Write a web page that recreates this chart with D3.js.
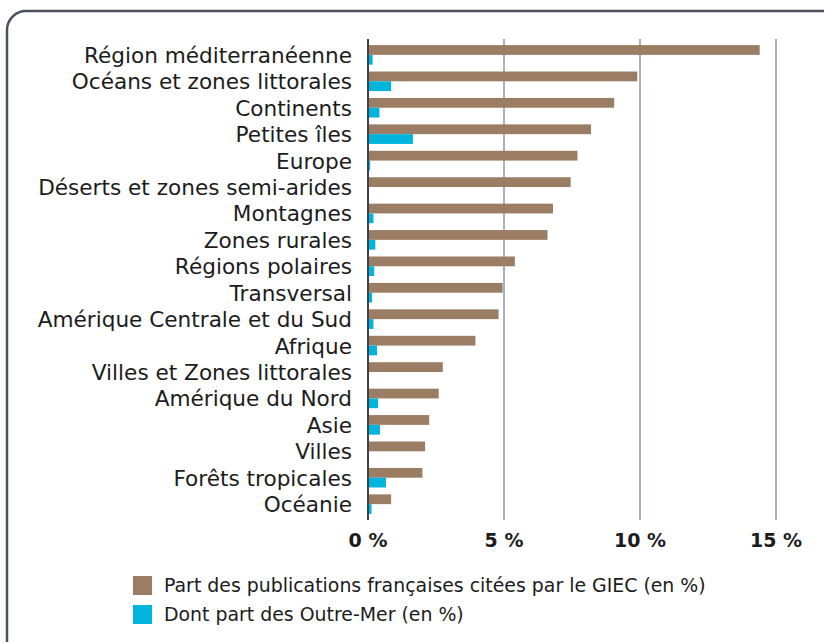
<!DOCTYPE html>
<html>
<head>
<meta charset="utf-8">
<script src="https://cdn.jsdelivr.net/npm/d3@7"></script>
<style>
  html, body { margin: 0; padding: 0; background: #fff; }
  svg { display: block; font-family: "DejaVu Sans", sans-serif; }
</style>
</head>
<body>
<svg id="chart" width="824" height="642"></svg>
<script>
const categories = [
  "Région méditerranéenne", "Océans et zones littorales", "Continents", "Petites îles",
  "Europe", "Déserts et zones semi-arides", "Montagnes", "Zones rurales",
  "Régions polaires", "Transversal", "Amérique Centrale et du Sud", "Afrique",
  "Villes et Zones littorales", "Amérique du Nord", "Asie", "Villes",
  "Forêts tropicales", "Océanie"
];
const partGiec = [14.4, 9.9, 9.05, 8.2, 7.7, 7.45, 6.8, 6.6, 5.4, 4.95, 4.8, 3.95, 2.75, 2.6, 2.25, 2.1, 2.0, 0.85];
const partOutreMer = [0.17, 0.85, 0.42, 1.65, 0.08, 0, 0.2, 0.27, 0.23, 0.15, 0.2, 0.33, 0, 0.37, 0.44, 0, 0.66, 0.13];
const ticks = [0, 5, 10, 15];
const seriesNames = ["Part des publications françaises citées par le GIEC (en %)", "Dont part des Outre-Mer (en %)"];
const colors = ["#9b7d63", "#00b4dc"];

const svg = d3.select("#chart");

// cadre arrondi qui déborde à droite et en bas
svg.append("rect")
  .attr("x", 7).attr("y", 11)
  .attr("width", 840).attr("height", 660)
  .attr("rx", 19)
  .attr("fill", "none")
  .attr("stroke", "#4b515d")
  .attr("stroke-width", 2.5);

const x = d3.scaleLinear().domain([0, 15]).range([368, 776]);
const y = d3.scaleBand().domain(categories).range([39, 520])
  .paddingInner(0.26).paddingOuter(0.23);
const sub = d3.scaleBand().domain([0, 1]).range([0, y.bandwidth()]);

// grille
svg.append("g").selectAll("line")
  .data(ticks.filter(t => t > 0))
  .join("line")
  .attr("x1", d => x(d)).attr("x2", d => x(d))
  .attr("y1", 39).attr("y2", 520)
  .attr("stroke", "#aab1bf")
  .attr("stroke-width", 2);

const rows = categories.map((c, i) => ({ cat: c, vals: [partGiec[i], partOutreMer[i]] }));

const g = svg.append("g").selectAll("g")
  .data(rows)
  .join("g")
  .attr("transform", d => `translate(0,${y(d.cat)})`);

g.selectAll("rect")
  .data(d => d.vals.map((v, k) => ({ v, k })))
  .join("rect")
  .attr("x", x(0))
  .attr("y", d => sub(d.k))
  .attr("width", d => x(d.v) - x(0))
  .attr("height", sub.bandwidth())
  .attr("fill", d => colors[d.k]);

// axe vertical
svg.append("line")
  .attr("x1", x(0)).attr("x2", x(0))
  .attr("y1", 39).attr("y2", 520)
  .attr("stroke", "#3c4350")
  .attr("stroke-width", 2);

// étiquettes des catégories
svg.append("g").selectAll("text")
  .data(categories)
  .join("text")
  .attr("x", 352)
  .attr("y", d => y(d) + y.bandwidth() / 2 + 8)
  .attr("text-anchor", "end")
  .attr("font-size", 21.6)
  .attr("fill", "#1c1c1c")
  .text(d => d);

// graduations
svg.append("g").selectAll("text")
  .data(ticks)
  .join("text")
  .attr("x", d => x(d))
  .attr("y", 547)
  .attr("text-anchor", "middle")
  .attr("font-size", 19)
  .attr("font-weight", 600)
  .attr("fill", "#1c1c1c")
  .text(d => d + " %");

// légende
const leg = svg.append("g").selectAll("g")
  .data(seriesNames)
  .join("g")
  .attr("transform", (d, i) => `translate(133,${576 + i * 29})`);
leg.append("rect")
  .attr("width", 19).attr("height", 19)
  .attr("fill", (d, i) => colors[i]);
leg.append("text")
  .attr("x", 31).attr("y", 16)
  .attr("font-size", 18.9)
  .attr("fill", "#1c1c1c")
  .text(d => d);
</script>
</body>
</html>
